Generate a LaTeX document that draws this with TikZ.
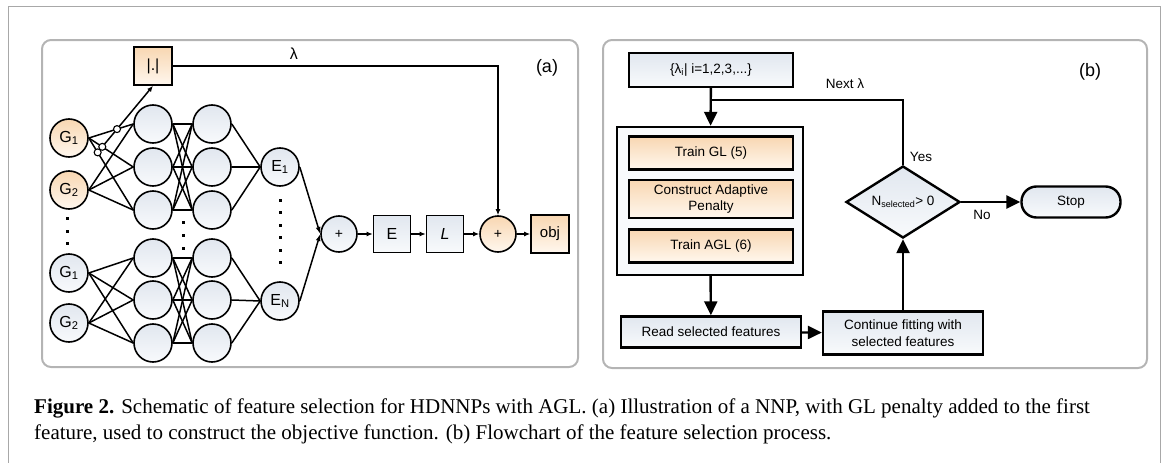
\documentclass[tikz,border=0pt]{standalone}
\usepackage{fontspec}
\setmainfont{Liberation Sans}
\newfontfamily\capfont{Liberation Serif}
\usetikzlibrary{positioning}
\usetikzlibrary{arrows.meta,shapes.geometric}

\definecolor{framegray}{HTML}{B4B4B4}
\definecolor{pagegray}{HTML}{A8A8A8}
\definecolor{bluetop}{HTML}{E1E7EF}
\definecolor{bluebot}{HTML}{F8FAFC}
\definecolor{orangetop}{HTML}{F8D7B2}
\definecolor{orangebot}{HTML}{FFF7EE}

\tikzset{
  neuron/.style={circle,draw,line width=1.6pt,minimum size=38pt,inner sep=0pt,
    top color=bluetop,bottom color=bluebot,font=\fontsize{16}{16}\selectfont},
  inneuron/.style={neuron,top color=orangetop,bottom color=orangebot},
  sumnode/.style={neuron,minimum size=36pt,font=\fontsize{14}{14}\selectfont},
  opbox/.style={rectangle,draw,line width=1.6pt,minimum size=37pt,inner sep=0pt,
    top color=bluetop,bottom color=bluebot,font=\fontsize{16}{16}\selectfont},
  wire/.style={line width=1.5pt},
  weight/.style={circle,draw,line width=1.1pt,fill=white,minimum size=7pt,inner sep=0pt},
  chain/.style={line width=1.8pt,-{Latex[length=6pt,width=5pt]}},
  flowbox/.style={rectangle,draw,line width=2.4pt,inner sep=0pt,align=center,
    top color=bluetop,bottom color=bluebot,font=\fontsize{13.5}{16.5}\selectfont},
  stepbox/.style={flowbox,top color=orangetop,bottom color=orangebot,
    minimum width=164pt},
  decision/.style={diamond,draw,line width=2.4pt,inner sep=0pt,shape aspect=1.6,
    minimum width=114pt,minimum height=72pt,top color=bluetop,bottom color=bluebot,
    font=\fontsize{13.5}{13.5}\selectfont},
  flow/.style={line width=2.4pt,-{Triangle[length=14pt,width=13pt]}},
  flowlabel/.style={font=\fontsize{13.5}{13.5}\selectfont,inner sep=1pt},
  panel/.style={draw=framegray,line width=2pt,rounded corners=9pt},
}

\begin{document}
\begin{tikzpicture}[x=1pt,y=-1pt]
\useasboundingbox (0,0) rectangle (1168,463);
\draw[pagegray,line width=1pt] (8,463) -- (8,6) -- (1160,6) -- (1160,463);
\draw[panel] (42,40) rectangle (578,367);
\draw[panel] (603,40) rectangle (1147,368);

\node[inneuron] (g11) at (69,138) {G\textsubscript{1}};
\node[inneuron] (g12) at (69,190) {G\textsubscript{2}};
\node[neuron] (g21) at (69,273) {G\textsubscript{1}};
\node[neuron] (g22) at (69,323) {G\textsubscript{2}};
\node[neuron] (l11) at (153,124) {};
\node[neuron] (l12) at (153,167) {};
\node[neuron] (l13) at (153,210) {};
\node[neuron] (l21) at (153,258) {};
\node[neuron] (l22) at (153,300) {};
\node[neuron] (l23) at (153,343) {};
\node[neuron] (m11) at (212,124) {};
\node[neuron] (m12) at (212,167) {};
\node[neuron] (m13) at (212,210) {};
\node[neuron] (m21) at (212,258) {};
\node[neuron] (m22) at (212,300) {};
\node[neuron] (m23) at (212,343) {};
\node[neuron] (e1) at (280,167) {E\textsubscript{1}};
\node[neuron] (e2) at (280,301) {E\textsubscript{N}};

\foreach \n in {1,2}{
  \foreach \i in {1,2}{\foreach \j in {1,2,3}{\draw[wire] (g\n\i.east) -- (l\n\j.west);}}
  \foreach \i in {1,2,3}{\foreach \j in {1,2,3}{\draw[wire] (l\n\i.east) -- (m\n\j.west);}}
  \foreach \j in {1,2,3}{\draw[wire] (m\n\j.east) -- (e\n.west);}
}

\foreach \y in {218,231,243}{\fill (65.5,\y-1.5) rectangle +(3,3);}
\foreach \y in {222,235,248}{\fill (181.5,\y-1.5) rectangle +(3,3);}
\foreach \y in {200,212,225,237,250,262}{\fill (278.5,\y-1.5) rectangle +(3,3);}

\node[opbox,top color=orangetop,bottom color=orangebot,minimum size=38pt] (abs) at (153,66) {|.|};
\coordinate (wbase) at (93,158);
\coordinate (w1) at (intersection of g11.east--l11.west and wbase--abs.south);
\coordinate (w2) at (intersection of g11.east--l12.west and wbase--abs.south);
\coordinate (w3) at (intersection of g11.east--l13.west and wbase--abs.south);
\draw[wire,-{Latex[length=6pt,width=5pt]}] (w3) -- (abs.south);
\foreach \w in {w1,w2,w3}{\node[weight] at (\w) {};}

\node[sumnode] (plus1) at (339,234) {+};
\node[opbox] (ebox) at (392,234) {E};
\node[opbox] (lbox) at (445,234) {\textit{L}};
\node[sumnode,top color=orangetop,bottom color=orangebot] (plus2) at (498,234) {+};
\node[opbox,top color=orangetop,bottom color=orangebot,minimum size=38pt,
  font=\fontsize{15}{15}\selectfont] (obj) at (550,234) {obj};

\draw[wire,-{Latex[length=7pt,width=5pt]}] (e1.east) -- (plus1.west);
\draw[wire,-{Latex[length=7pt,width=5pt]}] (e2.east) -- (plus1.west);
\draw[chain] (plus1) -- (ebox);
\draw[chain] (ebox) -- (lbox);
\draw[chain] (lbox) -- (plus2);
\draw[chain] (plus2) -- (obj);
\draw[line width=1.8pt,-{Latex[length=6pt,width=5pt]}] (abs.east) -| (plus2.north)
  node[pos=0.186,above=2pt,font=\fontsize{16}{16}\selectfont] (lamlabel) {λ};
\node[font=\fontsize{18}{18}\selectfont] (tagA) at (547,68) {(a)};

\node[flowbox,minimum width=164pt,minimum height=34pt] (lam) at (711,70)
  {\{λ\textsubscript{i}| i=1,2,3,...\}};
\node[flowbox,minimum width=186pt,minimum height=148pt,top color=bluebot,bottom color=bluebot] (grp) at (710,201) {};
\node[stepbox,minimum height=33pt] (tgl) at (711,153) {Train GL (5)};
\node[stepbox,minimum height=38pt] (cap) at (711,199) {Construct Adaptive\\Penalty};
\node[stepbox,minimum height=33pt] (tagl) at (711,246) {Train AGL (6)};
\node[flowbox,minimum width=180pt,minimum height=31pt] (read) at (711,332) {Read selected features};
\node[flowbox,minimum width=160pt,minimum height=43pt] (cont) at (903,333)
  {Continue fitting with\\selected features};
\node[decision] (dec) at (903,202) {N\textsubscript{\fontsize{9}{9}\selectfont selected}> 0};
\node[flowbox,minimum width=99pt,minimum height=31pt,rounded corners=15pt] (stop) at (1071,202) {Stop};
\coordinate (loop) at (711,100);

\draw[flow] (lam) -- (grp);
\draw[line width=2.4pt] (dec.north) |- (loop);
\draw[flow] (grp) -- (read);
\draw[flow] (read) -- (cont);
\draw[flow] (cont) -- (dec);
\draw[flow] (dec) -- (stop);
\node[flowlabel] (nextlam) at (845,84) {Next λ};
\node[flowlabel] (yes) at (921,157) {Yes};
\node[flowlabel] (no) at (982,215) {No};
\node[font=\fontsize{18}{18}\selectfont] (tagB) at (1090,72) {(b)};

\node[anchor=base west,inner sep=0pt,font=\capfont\fontsize{21}{21}\selectfont] (cap1) at (34,413)
  {\textbf{Figure 2.} Schematic of feature selection for HDNNPs with AGL. (a) Illustration of a NNP, with GL penalty added to the first};
\node[anchor=base west,inner sep=0pt,font=\capfont\fontsize{21}{21}\selectfont] (cap2) at (34,439)
  {feature, used to construct the objective function. (b) Flowchart of the feature selection process.};
\end{tikzpicture}
\end{document}
